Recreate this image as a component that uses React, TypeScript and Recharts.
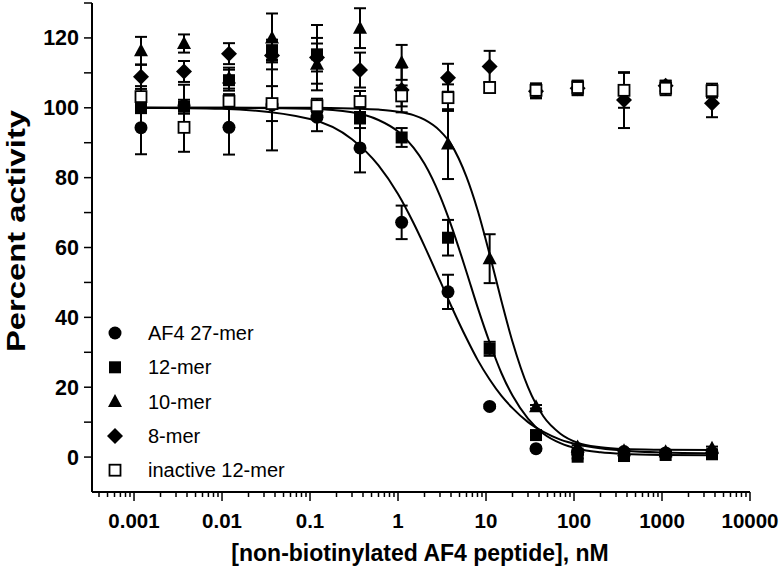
import React from 'react'
import { ComposedChart, Line, Scatter, ErrorBar, XAxis, YAxis } from 'recharts'

// concentrations (nM), half-log dilution series
const CONC = [0.0012, 0.0037, 0.012, 0.037, 0.12, 0.37, 1.1, 3.7, 11, 37, 110, 370, 1100, 3700]

const AF4_Y = [94.3, 100.6, 94.4, 100.8, 97.3, 88.5, 67.2, 47.3, 14.5, 2.4, 1.4, 1.6, 1.2, 1.3]
const AF4_ERR = [7.6, 6, 7.8, 13, 4, 7, 4.8, 4.9, 0.5, 0.5, 0.5, 0.5, 0.5, 0.5]

const M12_Y = [99.9, 100.3, 107.9, 116.5, 115.3, 97.2, 91.5, 62.8, 31.0, 6.3, 0.1, 0.3, 0.6, 0.8]
const M12_ERR = [1, 2, 3, 3, 8.4, 3, 2.7, 5.1, 2, 0.5, 0.5, 0.5, 0.5, 0.5]

const M10_Y = [116.3, 118.4, 108.5, 120, 112.5, 122.8, 113, 89.6, 56.8, 14.4, 2.9, 1.8, 1.5, 2.5]
const M10_ERR = [4, 2.6, 3, 7, 7.5, 5.7, 5, 10, 7, 0.5, 0.5, 0.5, 0.5, 0.5]

const M8_Y = [108.9, 110.4, 115.5, 115, 114.4, 110.8, 105.1, 108.6, 111.8, 104.7, 105.6, 102.2, 106.3, 101.3]
const M8_ERR = [3.5, 3, 3, 4, 4, 5, 6.4, 4, 4.5, 2, 2, 8, 1.5, 4]

const INACT_Y = [103.2, 94.4, 101.9, 101.2, 100.6, 101.8, 103.4, 102.9, 105.8, 105, 105.8, 105, 105.6, 104.9]
const INACT_ERR = [3, 7, 2, 5, 2, 3, 3, 3.8, 1.5, 2, 2, 5, 2, 2]

// fitted curves
const CURVE_X = [0.0012, 0.01, 0.1, 0.3, 0.6, 1, 1.5, 2, 3, 4, 6, 8, 11, 15, 20, 30, 45, 70, 110, 200, 370, 1000, 3700]
const AF4_FIT = [100, 99.7, 96.8, 91, 83.5, 75.3, 67, 60.4, 50.5, 43.4, 34, 27.9, 22.2, 17.5, 14, 10, 7.2, 5, 3.6, 2.5, 1.8, 1.3, 1.1]
const M12_FIT = [100, 100, 99.7, 98.7, 96.5, 93.2, 88.6, 84, 74.8, 66.5, 53, 43, 32.8, 24, 17.6, 11, 6.7, 4, 2.4, 1.4, 0.9, 0.6, 0.5]
const M10_FIT = [100, 100, 100, 99.8, 99.5, 98.9, 97.9, 96.6, 93.4, 89.6, 80.2, 70.8, 58, 44.6, 33, 20, 11.6, 6.7, 4.1, 2.8, 2.3, 2.1, 2]

const X_MAJOR = [0.001, 0.01, 0.1, 1, 10, 100, 1000, 10000]
const Y_TICKS = [0, 10, 20, 30, 40, 50, 60, 70, 80, 90, 100, 110, 120, 130]

const X_MIN = 0.000333
const X_MAX = 10000

const xTicks: number[] = [...X_MAJOR]
for (let e = -4; e <= 3; e++) {
  for (let m = 2; m <= 9; m++) {
    const v = Number((m * Math.pow(10, e)).toPrecision(3))
    if (v >= X_MIN && v <= X_MAX) xTicks.push(v)
  }
}
xTicks.sort((a, b) => a - b)

const pts = (ys: number[], errs: number[]) => CONC.map((x, i) => ({ x, y: ys[i], e: errs[i] }))
const fit = (ys: number[]) => CURVE_X.map((x, i) => ({ x, y: ys[i] }))

const FONT = '"Liberation Sans", Arial, Helvetica, sans-serif'

function Marker({ kind, cx, cy }: { kind: string; cx: number; cy: number }) {
  if (kind === 'circle') return <circle cx={cx} cy={cy} r={6.5} fill="#000" />
  if (kind === 'square') return <rect x={cx - 6} y={cy - 6} width={12} height={12} fill="#000" />
  if (kind === 'triangle')
    return <polygon points={`${cx},${cy - 7.5} ${cx - 7},${cy + 5.5} ${cx + 7},${cy + 5.5}`} fill="#000" />
  if (kind === 'diamond')
    return <polygon points={`${cx},${cy - 8} ${cx + 8},${cy} ${cx},${cy + 8} ${cx - 8},${cy}`} fill="#000" />
  return <rect x={cx - 5.5} y={cy - 5.5} width={11} height={11} fill="#fff" stroke="#000" strokeWidth={1.8} />
}

const shapeOf = (kind: string) => (p: any) => <Marker kind={kind} cx={p.cx} cy={p.cy} />

function XTick({ x, y, payload }: any) {
  const v = payload.value
  const lg = Math.log10(v)
  const major = Math.abs(lg - Math.round(lg)) < 1e-6
  return (
    <g>
      <line x1={x} x2={x} y1={y} y2={y + (major ? 9 : 5)} stroke="#000" strokeWidth={1.5} />
      {major && (
        <text x={x} y={y + 36} textAnchor="middle" fontFamily={FONT} fontWeight="bold" fontSize={20.5} fill="#000">
          {String(v)}
        </text>
      )}
    </g>
  )
}

function YTick({ x, y, payload }: any) {
  const v = payload.value
  return (
    <g>
      <line x1={x - 8} x2={x} y1={y} y2={y} stroke="#000" strokeWidth={1.5} />
      {v % 20 === 0 && (
        <text x={x - 13} y={y + 7.5} textAnchor="end" fontFamily={FONT} fontWeight="bold" fontSize={21.5} fill="#000">
          {v}
        </text>
      )}
    </g>
  )
}

const LEGEND = [
  { kind: 'circle', label: 'AF4 27-mer' },
  { kind: 'square', label: '12-mer' },
  { kind: 'triangle', label: '10-mer' },
  { kind: 'diamond', label: '8-mer' },
  { kind: 'open', label: 'inactive 12-mer' },
]

const SERIES = [
  { kind: 'circle', data: pts(AF4_Y, AF4_ERR) },
  { kind: 'square', data: pts(M12_Y, M12_ERR) },
  { kind: 'triangle', data: pts(M10_Y, M10_ERR) },
  { kind: 'diamond', data: pts(M8_Y, M8_ERR) },
  { kind: 'open', data: pts(INACT_Y, INACT_ERR) },
]

export default function App() {
  return (
    <div style={{ position: 'absolute', left: 0, top: 0, width: 784, height: 576, background: '#fff' }}>
      <ComposedChart width={784} height={576} margin={{ top: 3, right: 34, left: 0, bottom: 0 }}>
        <XAxis
          dataKey="x" type="number" scale="log" domain={[X_MIN, X_MAX]} allowDataOverflow
          ticks={xTicks} interval={0} tick={<XTick />} tickLine={false} tickSize={0} tickMargin={0}
          height={84} stroke="#000" strokeWidth={2}
        />
        <YAxis
          type="number" domain={[-10, 130]} allowDataOverflow ticks={Y_TICKS} interval={0}
          tick={<YTick />} tickLine={false} tickSize={0} tickMargin={0} width={92}
          stroke="#000" strokeWidth={2}
        />
        <Line data={fit(AF4_FIT)} dataKey="y" type="monotone" stroke="#000" strokeWidth={2} dot={false} isAnimationActive={false} />
        <Line data={fit(M12_FIT)} dataKey="y" type="monotone" stroke="#000" strokeWidth={2} dot={false} isAnimationActive={false} />
        <Line data={fit(M10_FIT)} dataKey="y" type="monotone" stroke="#000" strokeWidth={2} dot={false} isAnimationActive={false} />
        {SERIES.map(s => (
          <Scatter key={s.kind} data={s.data} dataKey="y" shape={shapeOf(s.kind)} isAnimationActive={false}>
            <ErrorBar dataKey="e" direction="y" width={6} stroke="#000" strokeWidth={2} isAnimationActive={false} />
          </Scatter>
        ))}
      </ComposedChart>
      <svg width={784} height={576} style={{ position: 'absolute', left: 0, top: 0, pointerEvents: 'none' }}>
        <text
          transform="translate(25 231) rotate(-90)" textAnchor="middle" fontFamily={FONT}
          fontWeight="bold" fontSize={25} fill="#000" textLength={242} lengthAdjust="spacingAndGlyphs"
        >
          Percent activity
        </text>
        <text x={420} y={561} textAnchor="middle" fontFamily={FONT} fontWeight="bold" fontSize={23} fill="#000">
          [non-biotinylated AF4 peptide], nM
        </text>
        {LEGEND.map((l, i) => {
          const cy = 333 + i * 34.3
          return (
            <g key={l.label}>
              <Marker kind={l.kind} cx={115} cy={cy} />
              <text x={148} y={cy + 7} fontFamily={FONT} fontSize={20} fill="#000">{l.label}</text>
            </g>
          )
        })}
      </svg>
    </div>
  )
}
